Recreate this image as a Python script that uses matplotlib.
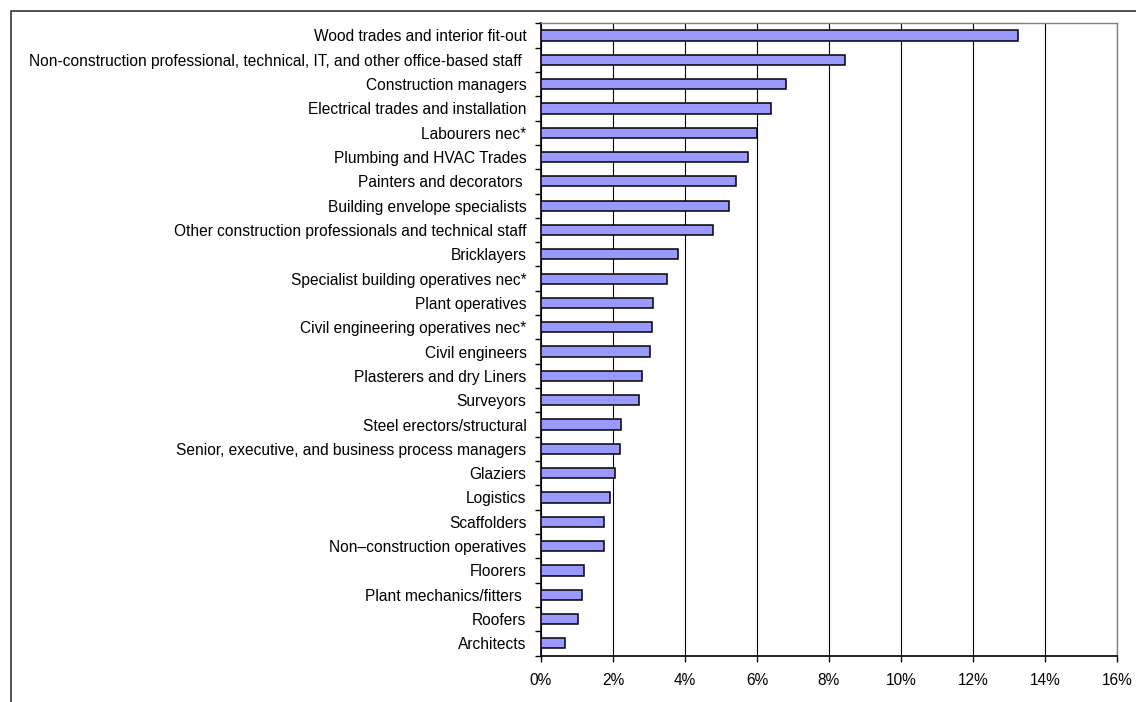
import matplotlib
matplotlib.use("Agg")
import matplotlib.pyplot as plt
from matplotlib.lines import Line2D
from matplotlib.ticker import FuncFormatter
import numpy as np

plt.rcParams['font.family'] = ['Liberation Sans', 'DejaVu Sans']

categories = [
    "Wood trades and interior fit-out",
    "Non-construction professional, technical, IT, and other office-based staff ",
    "Construction managers",
    "Electrical trades and installation",
    "Labourers nec*",
    "Plumbing and HVAC Trades",
    "Painters and decorators ",
    "Building envelope specialists",
    "Other construction professionals and technical staff",
    "Bricklayers",
    "Specialist building operatives nec*",
    "Plant operatives",
    "Civil engineering operatives nec*",
    "Civil engineers",
    "Plasterers and dry Liners",
    "Surveyors",
    "Steel erectors/structural",
    "Senior, executive, and business process managers",
    "Glaziers",
    "Logistics",
    "Scaffolders",
    "Non\u2013construction operatives",
    "Floorers",
    "Plant mechanics/fitters ",
    "Roofers",
    "Architects",
]
shares = [
    0.1326, 0.0845, 0.0681, 0.0640, 0.0599, 0.0576, 0.0543, 0.0523, 0.0477,
    0.0381, 0.0351, 0.0312, 0.0309, 0.0304, 0.0280, 0.0273, 0.0222, 0.0220,
    0.0206, 0.0191, 0.0175, 0.0175, 0.0119, 0.0113, 0.0103, 0.0067,
]
x_ticks = np.arange(0, 0.161, 0.02)

W, H = 1136, 702
fig = plt.figure(figsize=(W / 100, H / 100), dpi=100)
ax = fig.add_axes([541 / W, 1 - 655.5 / H, (1117 - 541) / W, (655.5 - 23.3) / H])

n = len(categories)
y = np.arange(n)
ax.barh(y, shares, height=0.42, color="#9999FF", edgecolor="black",
        linewidth=1.1, zorder=3)

ax.set_ylim(n - 0.5, -0.5)
ax.set_xlim(0, 0.16)
ax.set_xticks(x_ticks)
ax.xaxis.set_major_formatter(FuncFormatter(lambda v, p: f"{v * 100:.0f}%"))
ax.grid(axis="x", color="black", linewidth=0.8, zorder=0)

# category labels centred on bars, tick marks between categories
ax.set_yticks(y)
ax.set_yticklabels(categories)
ax.set_yticks(np.arange(-0.5, n, 1.0), minor=True)
ax.tick_params(axis="y", which="major", length=0, pad=10.5, labelsize=11.2)
ax.tick_params(axis="y", which="minor", length=4, width=1.0, color="black")
ax.tick_params(axis="x", length=4, width=1.0, pad=8.5, labelsize=11.2)

for side in ("top", "right"):
    ax.spines[side].set_color("#808080")
    ax.spines[side].set_linewidth(1.0)
for side in ("left", "bottom"):
    ax.spines[side].set_color("black")
    ax.spines[side].set_linewidth(1.2)

# outer frame
fig.add_artist(Line2D([11 / W, 11 / W, 1.0], [0.0, 1 - 11 / H, 1 - 11 / H],
                      transform=fig.transFigure, color="#333333", linewidth=1.2))

fig.savefig("out.png", dpi=100)
